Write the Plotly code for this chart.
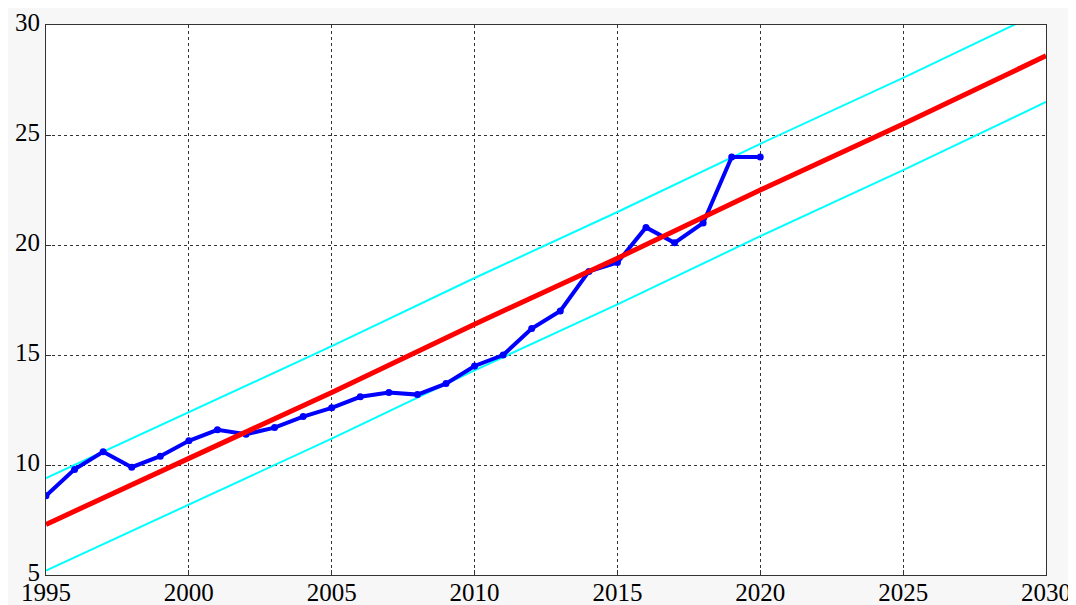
import plotly.graph_objects as go

years = list(range(1995, 2021))
values = [8.6, 9.8, 10.6, 9.9, 10.4, 11.1, 11.6, 11.4, 11.7, 12.2, 12.6, 13.1, 13.3,
          13.2, 13.7, 14.5, 15.0, 16.2, 17.0, 18.8, 19.2, 20.8, 20.1, 21.0, 24.0, 24.0]

trend_years = [1995, 2000, 2005, 2010, 2015, 2020, 2025, 2030]
trend = [7.3, 10.3, 13.3, 16.4, 19.4, 22.5, 25.5, 28.6]
upper = [9.4, 12.4, 15.4, 18.5, 21.5, 24.6, 27.6, 30.7]
lower = [5.2, 8.2, 11.2, 14.3, 17.3, 20.4, 23.4, 26.5]

x_ticks = [1995, 2000, 2005, 2010, 2015, 2020, 2025, 2030]
y_ticks = [5, 10, 15, 20, 25, 30]

fig = go.Figure()
fig.add_trace(go.Scatter(x=trend_years, y=upper, mode="lines",
                         line=dict(color="#00ffff", width=2), showlegend=False))
fig.add_trace(go.Scatter(x=trend_years, y=lower, mode="lines",
                         line=dict(color="#00ffff", width=2), showlegend=False))
fig.add_trace(go.Scatter(x=years, y=values, mode="lines+markers",
                         line=dict(color="#0000ff", width=4),
                         marker=dict(color="#0000ff", size=7, symbol="circle"),
                         showlegend=False))
fig.add_trace(go.Scatter(x=trend_years, y=trend, mode="lines",
                         line=dict(color="#ff0000", width=5), showlegend=False))

axis_common = dict(showgrid=True, gridcolor="#333333", griddash="3px,3px", gridwidth=1,
                   showline=True, linecolor="#333333", linewidth=1, mirror=True,
                   ticks="inside", ticklen=5, tickcolor="#333333", zeroline=False,
                   automargin=False,
                   tickfont=dict(family="Liberation Serif", size=25, color="#000000"))

fig.update_xaxes(range=[1995, 2030], tickvals=x_ticks, ticklabelstandoff=-5,
                 ticktext=[str(t) for t in x_ticks], **axis_common)
fig.update_yaxes(range=[5, 30], tickvals=y_ticks, ticklabelshift=-3,
                 ticktext=[str(t) for t in y_ticks], **axis_common)

fig.update_layout(width=1076, height=605,
                  margin=dict(l=38, r=38, t=17, b=38),
                  paper_bgcolor="#f7f7f7", plot_bgcolor="#ffffff")

fig.write_html("out.html")
